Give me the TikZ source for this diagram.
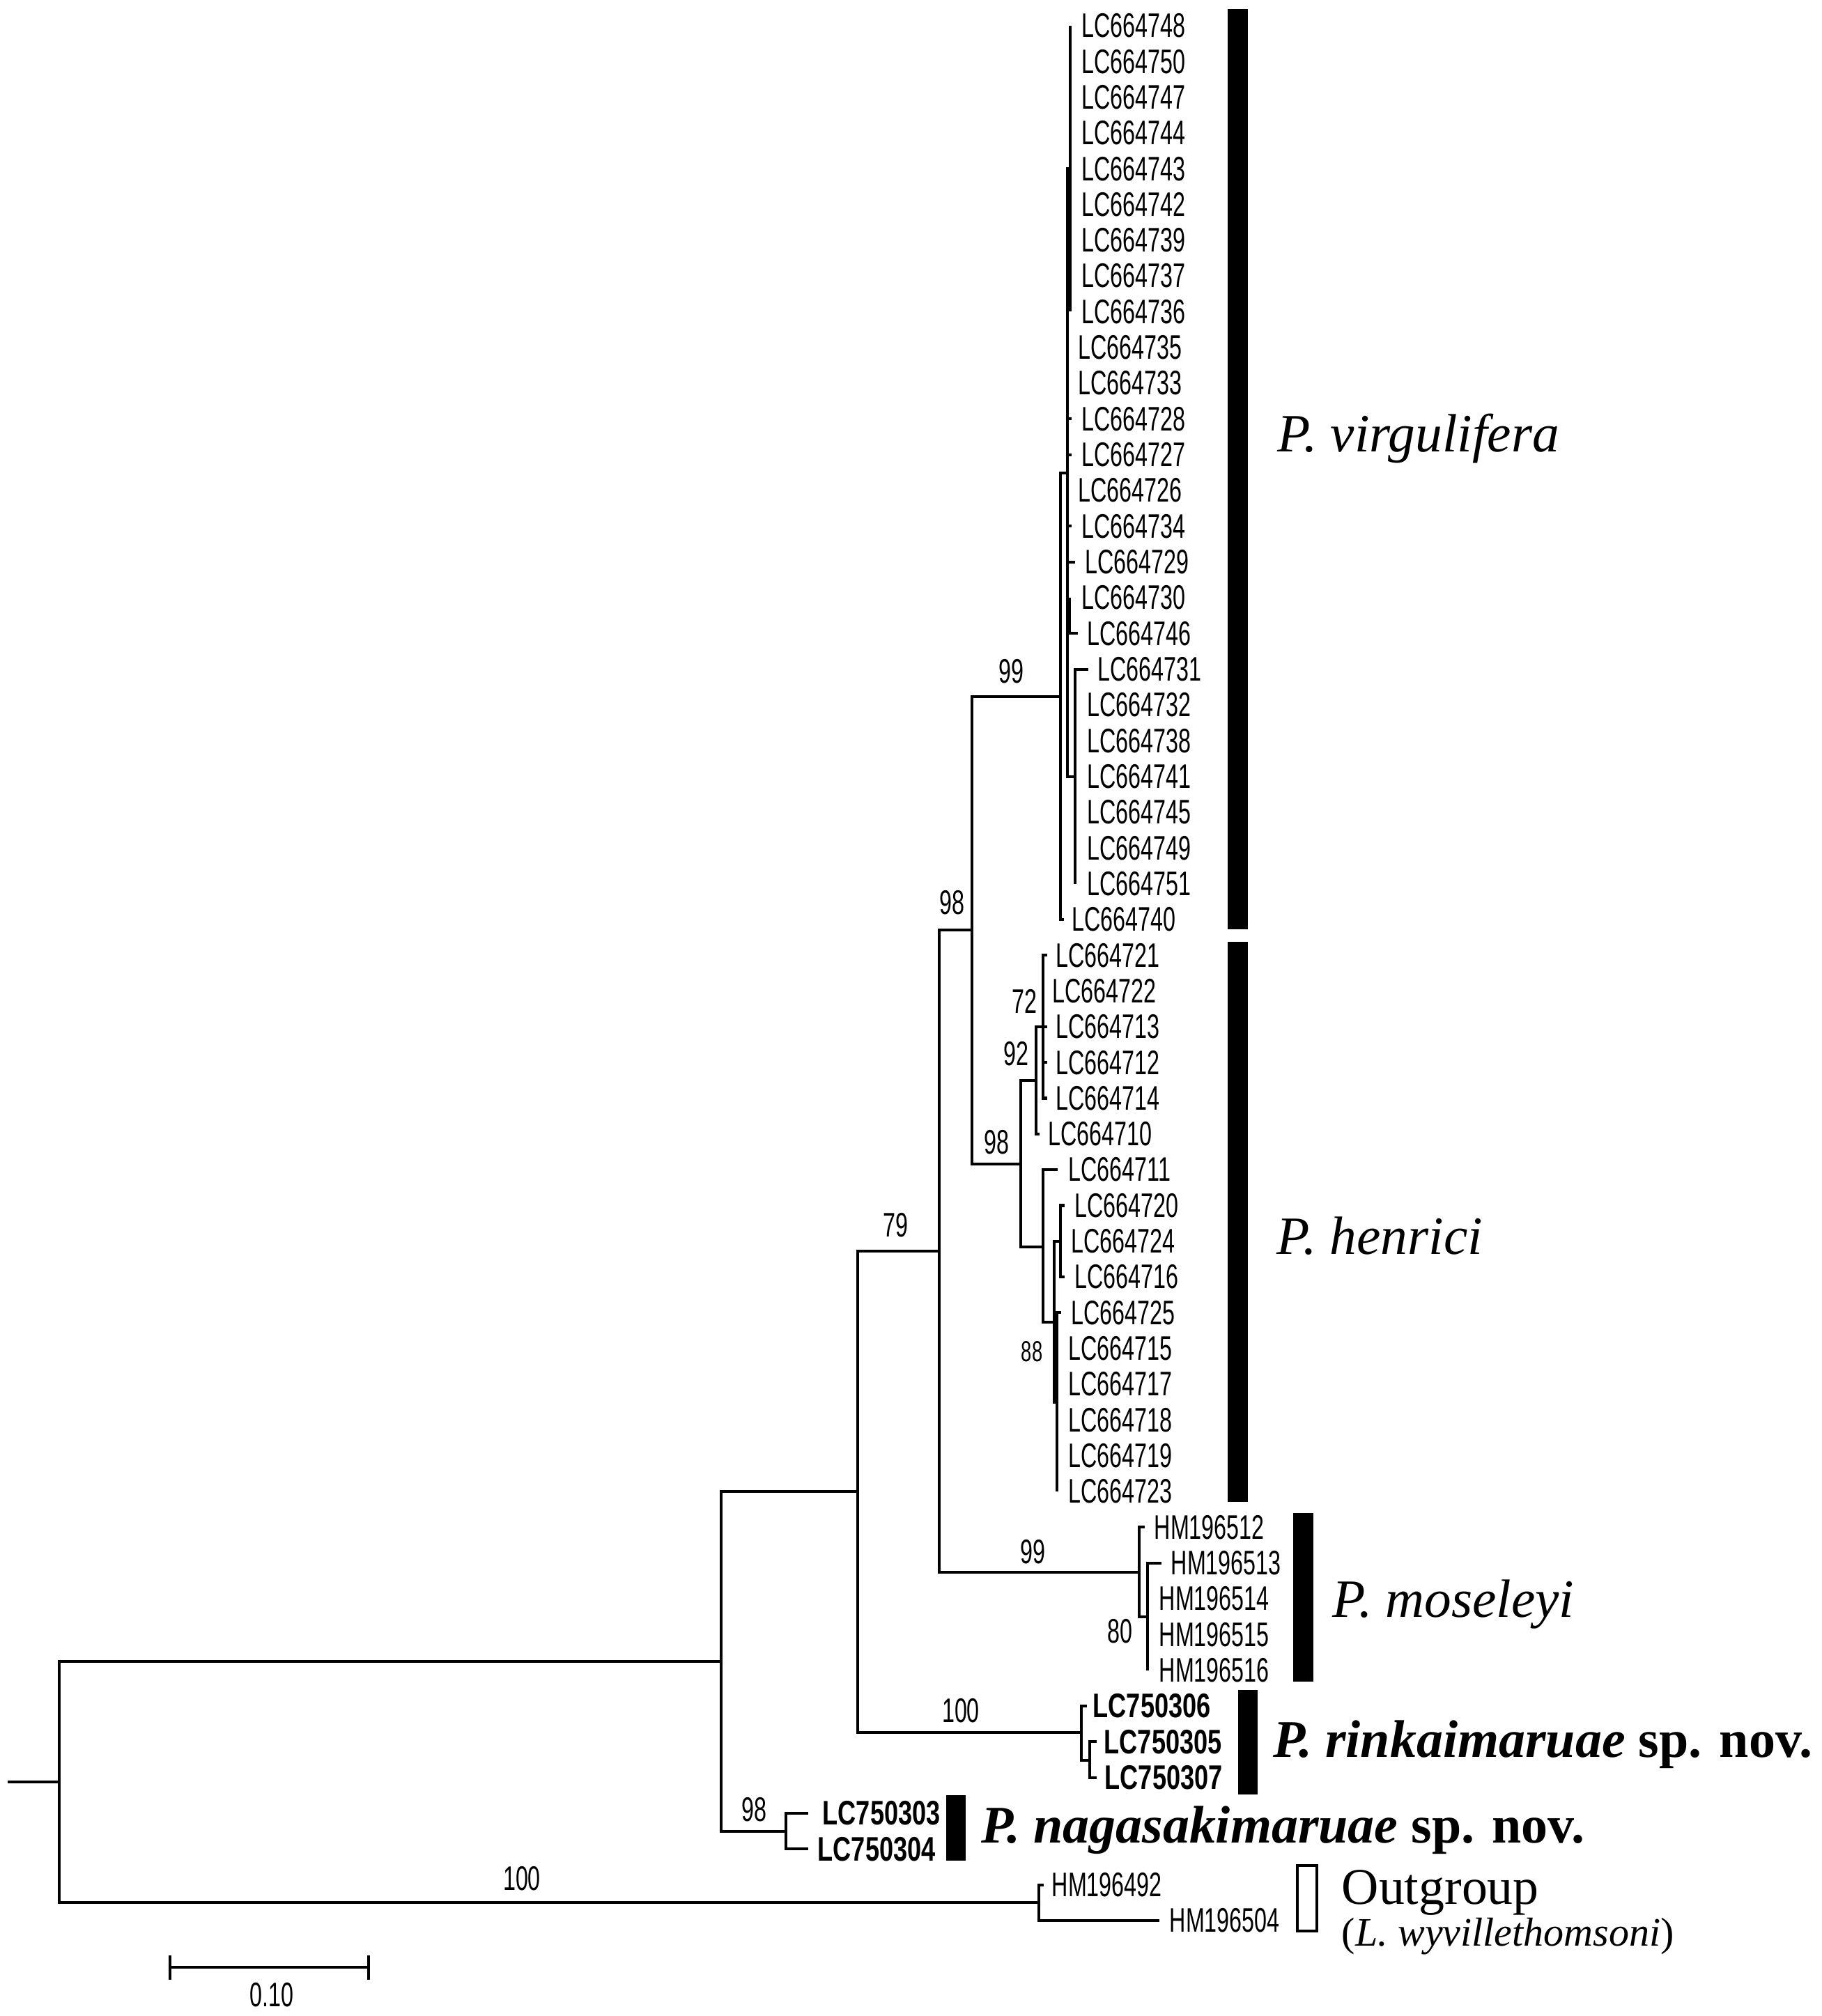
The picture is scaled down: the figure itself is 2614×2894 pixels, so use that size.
\documentclass[tikz,border=0pt]{standalone}
\usepackage{fontspec}
\setmainfont{Liberation Serif}
\newfontfamily\leaf[FakeStretch=0.66]{Liberation Sans}
\newfontfamily\leafb[FakeStretch=0.74]{Liberation Sans}
\begin{document}
\begin{tikzpicture}[x=0.01cm,y=-0.01cm]
\tikzset{
 br/.style={line width=1.15pt},
 lf/.style={anchor=west, inner sep=0pt, font=\leaf\fontsize{13.9}{15}\selectfont},
 lfb/.style={anchor=west, inner sep=0pt, font=\leafb\bfseries\fontsize{13.9}{15}\selectfont},
 bs/.style={inner sep=0pt, font=\leaf\fontsize{13.9}{15}\selectfont},
 bss/.style={inner sep=0pt, font=\leaf\fontsize{11.8}{13}\selectfont},
 clade/.style={anchor=base west, inner sep=0pt, font=\fontsize{22}{25}\selectfont},
 cladeb/.style={anchor=base west, inner sep=0pt, font=\fontsize{21.6}{25}\selectfont},
 cladeo/.style={anchor=base west, inner sep=0pt, font=\fontsize{21}{24}\selectfont},
 cladesm/.style={anchor=base west, inner sep=0pt, font=\fontsize{16.5}{19}\selectfont},
 bar/.style={fill=black},
}
\useasboundingbox (0,0) rectangle (2614,2894);
% internal nodes
\coordinate (R) at (85,2558);
\coordinate (R0) at (11,2558);
\coordinate (N1) at (1035,2385);
\coordinate (OG) at (1491,2731);
\coordinate (N2) at (1231,2141);
\coordinate (NAG) at (1128,2629);
\coordinate (N79) at (1348,1796);
\coordinate (RK) at (1552,2487);
\coordinate (RK2) at (1564,2527);
\coordinate (N98a) at (1395,1335);
\coordinate (MOS) at (1635,2257);
\coordinate (MOS80) at (1647,2321);
\coordinate (N99) at (1522,1000);
\coordinate (H) at (1465,1671);
\coordinate (B) at (1532,679);
\coordinate (C) at (1536,242);
\coordinate (D) at (1535,884);
\coordinate (E) at (1543,1115);
\coordinate (G92) at (1487,1551);
\coordinate (F) at (1497,1790);
\coordinate (G72) at (1497,1474);
\coordinate (N88) at (1513,1898);
\coordinate (I) at (1522,1782);
\coordinate (K) at (1517,2013);
% internal branches
\draw[br] (R0) -- (R);
\foreach \p/\c in {R/N1,R/OG,N1/N2,N1/NAG,N2/N79,N2/RK,RK/RK2,N79/N98a,N79/MOS,MOS/MOS80,N98a/N99,N98a/H,N99/B,B/C,B/D,B/E,H/G92,H/F,G92/G72,F/N88,N88/I,N88/K}
  \draw[br] (\p) |- (\c);
% leaves
\foreach \t/\x/\tx/\p/\i in {
LC664748/1552/1536/C/0, LC664750/1552/1536/C/1, LC664747/1552/1536/C/2,
LC664744/1552/1536/C/3, LC664743/1552/1536/C/4, LC664742/1552/1536/C/5,
LC664739/1552/1536/C/6, LC664737/1552/1536/C/7, LC664736/1552/1536/C/8,
LC664735/1547/1532/B/9, LC664733/1547/1532/B/10, LC664728/1552/1538/B/11,
LC664727/1552/1538/B/12, LC664726/1547/1532/B/13, LC664734/1552/1538/B/14,
LC664729/1557/1543/B/15, LC664730/1552/1535/D/16, LC664746/1560/1547/D/17,
LC664731/1575/1562/E/18, LC664732/1560/1543/E/19, LC664738/1560/1543/E/20,
LC664741/1560/1543/E/21, LC664745/1560/1543/E/22, LC664749/1560/1543/E/23,
LC664751/1560/1543/E/24, LC664740/1538/1527/N99/25,
LC664721/1515/1503/G72/26, LC664722/1510/1497/G72/27, LC664713/1515/1503/G72/28,
LC664712/1515/1503/G72/29, LC664714/1515/1503/G72/30, LC664710/1504/1492/G92/31,
LC664711/1533/1518/F/32, LC664720/1542/1528/I/33, LC664724/1537/1522/I/34,
LC664716/1542/1528/I/35, LC664725/1537/1523/K/36, LC664715/1533/1517/K/37,
LC664717/1533/1517/K/38, LC664718/1533/1517/K/39, LC664719/1533/1517/K/40,
LC664723/1533/1517/K/41,
HM196512/1656/1643/MOS/42, HM196513/1680/1667/MOS80/43, HM196514/1663/1647/MOS80/44,
HM196515/1663/1647/MOS80/45, HM196516/1663/1647/MOS80/46,
HM196492/1509/1498/OG/52, HM196504/1678/1664/OG/53}
{
  \coordinate (t\i) at (\tx,{36.9+51.32*\i});
  \node[lf] (\t) at (\x,{36.9+51.32*\i}) {\t};
  \draw[br] (\p) |- (t\i);
}
\foreach \t/\x/\tx/\p/\i in {
LC750306/1568/1560/RK/47, LC750305/1584/1574/RK2/48, LC750307/1585/1574/RK2/49,
LC750303/1180/1160/NAG/50, LC750304/1173/1160/NAG/51}
{
  \coordinate (t\i) at (\tx,{36.9+51.32*\i});
  \node[lfb] (\t) at (\x,{36.9+51.32*\i}) {\t};
  \draw[br] (\p) |- (t\i);
}
% bootstrap values
\node[bs] (bs1) at (1451,964) {99};
\node[bs] (bs2) at (1366,1296) {98};
\node[bs] (bs3) at (1470,1437) {72};
\node[bs] (bs4) at (1458,1513) {92};
\node[bs] (bs5) at (1430,1640) {98};
\node[bss] (bs6) at (1481,1940) {88};
\node[bs] (bs7) at (1285,1759) {79};
\node[bs] (bs8) at (1482,2228) {99};
\node[bs] (bs9) at (1607,2342) {80};
\node[bs] (bs10) at (1379,2456) {100};
\node[bs] (bs11) at (1082,2598) {98};
\node[bs] (bs12) at (749,2697) {100};
% clade bars
\fill[bar] (1762,13) rectangle (1791,1334);
\fill[bar] (1762,1352) rectangle (1791,2156);
\fill[bar] (1856,2172) rectangle (1885,2414);
\fill[bar] (1777,2426) rectangle (1805,2576);
\fill[bar] (1358,2577) rectangle (1386,2671);
\draw[br] (1862,2678) rectangle (1890,2772);
% clade labels
\node[clade] (cv) at (1833,648) {\textit{P. virgulifera}};
\node[clade] (ch) at (1832,1800) {\textit{P. henrici}};
\node[clade] (cm) at (1912,2321) {\textit{P. moseleyi}};
\node[cladeb] (cr) at (1827,2522) {\textbf{\textit{P. rinkaimaruae}} \textbf{sp. nov.}};
\node[cladeb] (cn) at (1408,2645) {\textbf{\textit{P. nagasakimaruae}} \textbf{sp. nov.}};
\node[cladeo] (co) at (1925,2733) {Outgroup};
\node[cladesm] (cl) at (1925,2793) {(\textit{L. wyvillethomsoni})};
% scale bar
\coordinate (s1) at (244,2824);
\coordinate (s2) at (529,2824);
\coordinate (s1a) at (244,2807);
\coordinate (s1b) at (244,2842);
\coordinate (s2a) at (529,2807);
\coordinate (s2b) at (529,2842);
\draw[br] (s1) -- (s2);
\draw[br] (s1a) -- (s1b);
\draw[br] (s2a) -- (s2b);
\node[bs] (sc) at (390,2864) {0.10};
\end{tikzpicture}
\end{document}
